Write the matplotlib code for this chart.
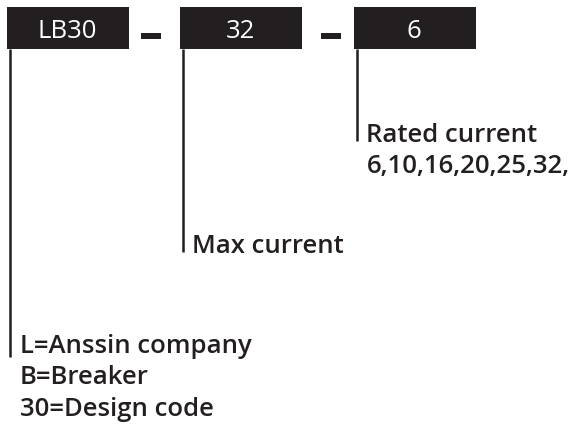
import matplotlib
matplotlib.use('Agg')
import matplotlib.pyplot as plt
from matplotlib.patches import Rectangle

# code segments and their explanations
codes = ['LB30', '32', '6']
notes = [['L=Anssin company', 'B=Breaker', '30=Design code'],
         ['Max current'],
         ['Rated current', '6,10,16,20,25,32,']]

ink = '#231f20'
font = 'Open Sans'

fig = plt.figure(figsize=(5.76, 4.29), dpi=100)
ax = fig.add_axes([0, 0, 1, 1])
ax.set_xlim(0, 576)
ax.set_ylim(429, 0)
ax.axis('off')

box_x = [7, 180, 354]
box_w = 122
line_end = [357, 252, 141]   # where each leader line stops
text_y = [353, 253, 142]     # baseline of first note line
gap = 31.5

for i, code in enumerate(codes):
    x = box_x[i]
    ax.add_patch(Rectangle((x, 7), box_w, 42, color=ink, lw=0))
    ax.text(x + box_w / 2 - 1, 38, code, color='white', fontsize=18.5, family=font,
            ha='center', va='baseline')
    lx = x + 2.5
    ax.plot([lx, lx], [49, line_end[i]], color=ink, lw=1.8, solid_capstyle='butt')
    for j, t in enumerate(notes[i]):
        ax.text(lx + 10, text_y[i] + j * gap, t, color=ink, fontsize=18.5, family=font,
                weight='semibold', ha='left', va='baseline')

# dashes between boxes
for dx in [141, 321]:
    ax.add_patch(Rectangle((dx, 33), 20, 6, color=ink, lw=0))

fig.savefig('out.png', dpi=100)
